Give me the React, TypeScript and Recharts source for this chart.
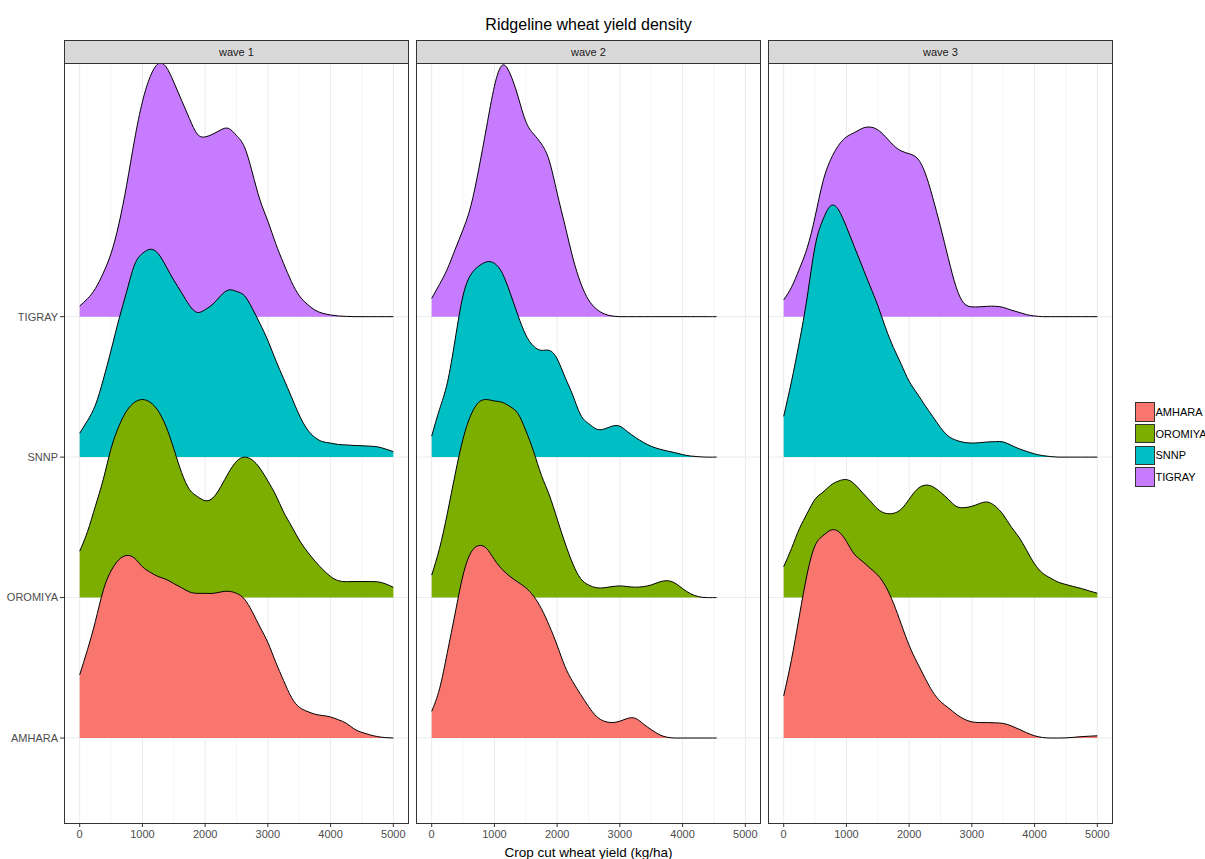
import { Area, AreaChart, CartesianGrid, XAxis, YAxis } from "recharts"

const regions = ["AMHARA", "OROMIYA", "SNNP", "TIGRAY"]
const regionColors = ["#F8766D", "#7CAE00", "#00BFC4", "#C77CFF"]
const waves = ["wave 1", "wave 2", "wave 3"]
const xTicks = [0, 1000, 2000, 3000, 4000, 5000]
const xMinorTicks = [500, 1500, 2500, 3500, 4500]
const yTicks = [1, 2, 3, 4]

// sampling grid of the densities (kg/ha)
const fullGrid = [
  0, 125, 250, 375, 500, 625, 750, 875, 1000, 1125, 1250, 1375, 1500, 1625,
  1750, 1875, 2000, 2125, 2250, 2375, 2500, 2625, 2750, 2875, 3000, 3125, 3250,
  3375, 3500, 3625, 3750, 3875, 4000, 4125, 4250, 4375, 4500, 4625, 4750, 4875,
  5000,
]
const wave2Grid = [
  0, 125, 250, 375, 500, 625, 750, 875, 1000, 1125, 1250, 1375, 1500, 1625,
  1750, 1875, 2000, 2125, 2250, 2375, 2500, 2625, 2750, 2875, 3000, 3125, 3250,
  3375, 3500, 3625, 3750, 3875, 4000, 4125, 4250, 4375, 4500, 4545,
]

// ridge heights (scaled density, 1 = gap between two ridges)
const wave1Amhara = [
  0.45, 0.63, 0.83, 1.05, 1.19, 1.27, 1.3, 1.28, 1.22, 1.18, 1.15, 1.13, 1.1,
  1.07, 1.04, 1.03, 1.03, 1.03, 1.04, 1.045, 1.03, 0.99, 0.9, 0.79, 0.68, 0.54,
  0.41, 0.29, 0.22, 0.19, 0.17, 0.16, 0.15, 0.13, 0.105, 0.065, 0.04, 0.023,
  0.01, 0.003, 0,
]
const wave1Oromiya = [
  0.33, 0.47, 0.65, 0.84, 1.06, 1.22, 1.33, 1.39, 1.41, 1.39, 1.33, 1.22, 1.06,
  0.89, 0.77, 0.72, 0.69, 0.71, 0.79, 0.89, 0.97, 1.0, 0.98, 0.92, 0.83, 0.73,
  0.61, 0.51, 0.41, 0.33, 0.26, 0.2, 0.15, 0.12, 0.113, 0.114, 0.114, 0.114,
  0.112, 0.098, 0.073,
]
const wave1Snnp = [
  0.17, 0.26, 0.37, 0.55, 0.76, 0.98, 1.18, 1.37, 1.45, 1.48, 1.45, 1.36, 1.26,
  1.17, 1.08, 1.03, 1.05, 1.09, 1.15, 1.19, 1.18, 1.15, 1.06, 0.95, 0.83, 0.69,
  0.56, 0.43, 0.3, 0.2, 0.14, 0.11, 0.1, 0.09, 0.087, 0.083, 0.081, 0.078,
  0.073, 0.058, 0.039,
]
const wave1Tigray = [
  0.076, 0.128, 0.2, 0.31, 0.45, 0.66, 0.94, 1.26, 1.53, 1.71, 1.8, 1.78,
  1.67, 1.54, 1.41, 1.3, 1.28, 1.3, 1.33, 1.34, 1.29, 1.21, 1.03, 0.83, 0.68,
  0.52, 0.38, 0.25, 0.15, 0.09, 0.047, 0.024, 0.012, 0.005, 0.002, 0, 0, 0, 0,
  0, 0,
]

const wave2Amhara = [
  0.19, 0.35, 0.61, 0.89, 1.16, 1.32, 1.37, 1.35, 1.27, 1.2, 1.15, 1.11, 1.07,
  1.01, 0.92, 0.8, 0.66, 0.51, 0.4, 0.31, 0.225, 0.155, 0.12, 0.11, 0.12, 0.14,
  0.14, 0.1, 0.06, 0.025, 0.006, 0, 0, 0, 0, 0, 0, 0,
]
const wave2Oromiya = [
  0.16, 0.35, 0.6, 0.88, 1.13, 1.3, 1.39, 1.41, 1.4, 1.39, 1.36, 1.31, 1.19,
  1.04, 0.87, 0.73, 0.56, 0.39, 0.24, 0.135, 0.09, 0.07, 0.07, 0.078, 0.083,
  0.078, 0.074, 0.078, 0.09, 0.11, 0.12, 0.104, 0.064, 0.028, 0.007, 0, 0, 0,
]
const wave2Snnp = [
  0.15, 0.34, 0.53, 0.84, 1.15, 1.3, 1.36, 1.39, 1.38, 1.31, 1.17, 1.01, 0.87,
  0.79, 0.76, 0.76, 0.7, 0.57, 0.44, 0.3, 0.24, 0.2, 0.2, 0.22, 0.22, 0.18,
  0.14, 0.105, 0.077, 0.058, 0.044, 0.032, 0.018, 0.008, 0.003, 0, 0, 0,
]
const wave2Tigray = [
  0.13, 0.23, 0.34, 0.48, 0.62, 0.79, 1.05, 1.35, 1.64, 1.79, 1.73, 1.57, 1.39,
  1.3, 1.23, 1.11, 0.88, 0.65, 0.42, 0.24, 0.12, 0.055, 0.02, 0.005, 0, 0, 0, 0,
  0, 0, 0, 0, 0, 0, 0, 0, 0, 0,
]

const wave3Amhara = [
  0.3, 0.56, 0.87, 1.17, 1.37, 1.44, 1.48, 1.47, 1.4, 1.31, 1.26, 1.21, 1.16,
  1.08, 0.96, 0.81, 0.66, 0.54, 0.43, 0.33, 0.26, 0.215, 0.17, 0.135, 0.115,
  0.11, 0.11, 0.108, 0.104, 0.087, 0.063, 0.037, 0.016, 0.004, 0, 0, 0.001,
  0.005, 0.01, 0.013, 0.016,
]
const wave3Oromiya = [
  0.22, 0.35, 0.49, 0.6, 0.7, 0.75, 0.8, 0.83, 0.84, 0.81, 0.75, 0.69, 0.63,
  0.6, 0.6, 0.63, 0.7, 0.77, 0.8, 0.79, 0.75, 0.7, 0.65, 0.64, 0.65, 0.67, 0.68,
  0.65, 0.59, 0.505, 0.43, 0.335, 0.24, 0.175, 0.14, 0.11, 0.093, 0.078, 0.064,
  0.047, 0.031,
]
const wave3Snnp = [
  0.29, 0.54, 0.82, 1.14, 1.5, 1.69, 1.79, 1.76, 1.64, 1.5, 1.36, 1.22, 1.08,
  0.92, 0.78, 0.66, 0.54, 0.455, 0.37, 0.29, 0.21, 0.15, 0.12, 0.105, 0.1,
  0.103, 0.108, 0.11, 0.108, 0.085, 0.06, 0.04, 0.023, 0.011, 0.004, 0, 0, 0, 0,
  0, 0,
]
const wave3Tigray = [
  0.12, 0.21, 0.34, 0.49, 0.71, 0.96, 1.12, 1.22, 1.28, 1.31, 1.34, 1.35, 1.33,
  1.28, 1.22, 1.18, 1.16, 1.13, 1.03, 0.85, 0.64, 0.415, 0.21, 0.095, 0.07,
  0.07, 0.074, 0.074, 0.066, 0.047, 0.031, 0.014, 0.005, 0, 0, 0, 0, 0, 0, 0, 0,
]

const FONT = '"Liberation Sans", Arial, sans-serif'
const PANEL_W = 345
const PANEL_H = 760
const PANEL_TOP = 63
const PANEL_LEFTS = [64, 416, 768]
const Y_AXIS_W = 64

function buildRows(grid: number[], series: number[][]) {
  return grid.map((x, i) => {
    const row: Record<string, number> = { x }
    series.forEach((s, r) => {
      row[regions[r]] = r + 1 + s[i]
    })
    return row
  })
}

const facetRows = [
  buildRows(fullGrid, [wave1Amhara, wave1Oromiya, wave1Snnp, wave1Tigray]),
  buildRows(wave2Grid, [wave2Amhara, wave2Oromiya, wave2Snnp, wave2Tigray]),
  buildRows(fullGrid, [wave3Amhara, wave3Oromiya, wave3Snnp, wave3Tigray]),
]

function Facet({ rows, showY }: { rows: Record<string, number>[]; showY: boolean }) {
  return (
    <AreaChart
      width={PANEL_W + (showY ? Y_AXIS_W : 0)}
      height={PANEL_H + 30}
      data={rows}
      margin={{ top: 0, right: 0, bottom: 0, left: 0 }}
    >
      <CartesianGrid
        horizontal={false}
        verticalValues={xMinorTicks}
        stroke="#F0F0F0"
        strokeWidth={0.7}
      />
      <CartesianGrid
        verticalValues={xTicks}
        horizontalValues={yTicks}
        stroke="#EBEBEB"
        strokeWidth={1}
      />
      <XAxis
        type="number"
        dataKey="x"
        domain={[-250, 5250]}
        allowDataOverflow
        ticks={xTicks}
        interval={0}
        height={30}
        axisLine={false}
        tickSize={4}
        tickMargin={3}
        tickLine={{ stroke: "#333333" }}
        tick={{ fill: "#4D4D4D", fontSize: 11 }}
      />
      <YAxis
        type="number"
        domain={[0.395, 5.806]}
        allowDataOverflow
        ticks={yTicks}
        interval={0}
        hide={!showY}
        width={Y_AXIS_W}
        axisLine={false}
        tickSize={4}
        tickMargin={2}
        tickLine={{ stroke: "#333333" }}
        tick={{ fill: "#4D4D4D", fontSize: 11 }}
        tickFormatter={(v: number) => regions[v - 1]}
      />
      {[3, 2, 1, 0].map((r) => (
        <Area
          key={regions[r]}
          type="natural"
          dataKey={regions[r]}
          baseValue={r + 1}
          fill={regionColors[r]}
          fillOpacity={1}
          stroke="#000000"
          strokeWidth={1}
          dot={false}
          activeDot={false}
          isAnimationActive={false}
        />
      ))}
    </AreaChart>
  )
}

export default function App() {
  return (
    <div
      style={{
        position: "absolute",
        left: 0,
        top: 0,
        width: 1205,
        height: 859,
        background: "#FFFFFF",
        fontFamily: FONT,
      }}
    >
      <div
        style={{
          position: "absolute",
          left: 64,
          width: 1049,
          top: 16,
          lineHeight: "18px",
          fontSize: 16,
          textAlign: "center",
          color: "#000000",
        }}
      >
        Ridgeline wheat yield density
      </div>

      {waves.map((wave, i) => (
        <div key={wave}>
          <div
            style={{
              position: "absolute",
              left: PANEL_LEFTS[i] - (i === 0 ? Y_AXIS_W : 0),
              top: PANEL_TOP,
            }}
          >
            <Facet rows={facetRows[i]} showY={i === 0} />
          </div>
          <div
            style={{
              position: "absolute",
              left: PANEL_LEFTS[i],
              top: 40,
              width: PANEL_W,
              height: 24,
              boxSizing: "border-box",
              background: "#D9D9D9",
              border: "1px solid #333333",
              fontSize: 11,
              lineHeight: "22px",
              textAlign: "center",
              color: "#1A1A1A",
            }}
          >
            {wave}
          </div>
          <div
            style={{
              position: "absolute",
              left: PANEL_LEFTS[i],
              top: PANEL_TOP,
              width: PANEL_W,
              height: PANEL_H + 1,
              boxSizing: "border-box",
              border: "1px solid #333333",
              pointerEvents: "none",
            }}
          />
        </div>
      ))}

      <div
        style={{
          position: "absolute",
          left: 64,
          width: 1049,
          top: 844,
          lineHeight: "17px",
          fontSize: 13.5,
          textAlign: "center",
          color: "#000000",
        }}
      >
        Crop cut wheat yield (kg/ha)
      </div>

      <div style={{ position: "absolute", left: 1135, top: 401 }}>
        {regions.map((name, r) => (
          <div
            key={name}
            style={{ display: "flex", alignItems: "center", height: 21.75 }}
          >
            <div
              style={{
                width: 19.5,
                height: 19.5,
                boxSizing: "border-box",
                background: regionColors[r],
                border: "1px solid #333333",
              }}
            />
            <span style={{ fontSize: 11, color: "#000000", marginLeft: 1 }}>
              {name}
            </span>
          </div>
        ))}
      </div>
    </div>
  )
}
